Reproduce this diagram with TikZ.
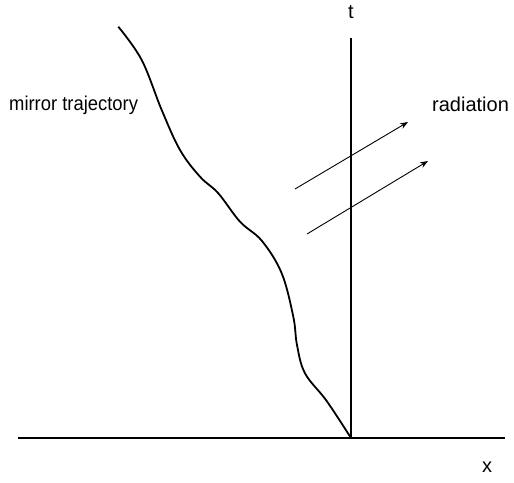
\documentclass[tikz,border=0pt]{standalone}
\usepackage{fontspec}
\setmainfont{Liberation Sans}
\usetikzlibrary{arrows.meta}
\begin{document}
\begin{tikzpicture}[x=1pt,y=-1pt,
  axis/.style={line width=2.4pt},
  traj/.style={line width=1.8pt, line join=round},
  ray/.style={line width=0.9pt, -{Stealth[length=8pt,width=6pt]}},
  lbl/.style={inner sep=0pt, font=\fontsize{20}{24}\selectfont}]
\useasboundingbox (0,0) rectangle (514,482);
\coordinate (xl) at (18,438);
\coordinate (xr) at (505,438);
\coordinate (o) at (351,438);
\coordinate (tt) at (351,38);
\draw[axis] (xl) -- (xr);
\draw[axis] (o) -- (tt);
\node[lbl] (tlab) at (351,12) {t};
\node[lbl] (xlab) at (487,467) {x};
\node[lbl, anchor=west, xscale=0.92] (mlab) at (9,105) {mirror trajectory};
\node[lbl, anchor=west] (rlab) at (432,104) {radiation};
\draw[traj] plot[smooth, tension=0.6] coordinates {(118.3,26.7) (141.7,60) (161.7,110) (180,150) (200,176.7) (218.3,193.3) (240,221.7) (262,241) (281.7,273.3) (293.3,316.7) (297,345) (305,373.3) (326.7,401) (o)};
\coordinate (a1s) at (295,189);
\coordinate (a1e) at (408,122);
\coordinate (a2s) at (307,234);
\coordinate (a2e) at (428,161);
\draw[ray] (a1s) -- (a1e);
\draw[ray] (a2s) -- (a2e);
\end{tikzpicture}
\end{document}
